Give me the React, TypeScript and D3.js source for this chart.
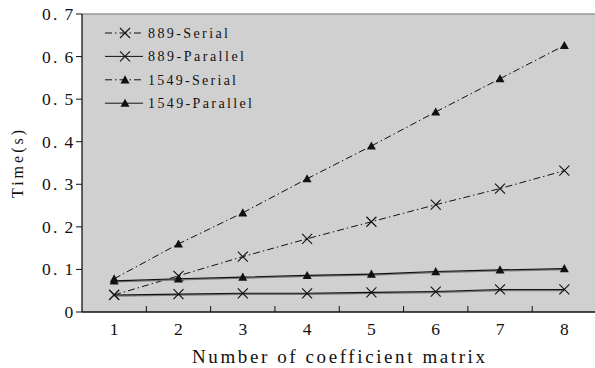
import React from "react";
import * as d3 from "d3";

const categories = [1, 2, 3, 4, 5, 6, 7, 8];
const serial889 = [0.04, 0.085, 0.13, 0.172, 0.212, 0.252, 0.29, 0.332];
const parallel889 = [0.04, 0.042, 0.044, 0.044, 0.046, 0.048, 0.053, 0.053];
const serial1549 = [0.078, 0.16, 0.233, 0.313, 0.39, 0.47, 0.548, 0.626];
const parallel1549 = [0.073, 0.078, 0.082, 0.086, 0.089, 0.095, 0.099, 0.102];
const yTicks = [0, 0.1, 0.2, 0.3, 0.4, 0.5, 0.6, 0.7];
const yTickLabels = ["0", "0.1", "0.2", "0.3", "0.4", "0.5", "0.6", "0.7"];
const seriesNames = ["889-Serial", "889-Parallel", "1549-Serial", "1549-Parallel"];

const W = 595, H = 368;
const L = 82, T = 14, R = 596.5, B = 312;
const FONT = "'Liberation Serif', 'DejaVu Serif', serif";

const series = [
  { name: seriesNames[0], values: serial889, marker: "x", dash: "7,3,1.5,3" },
  { name: seriesNames[1], values: parallel889, marker: "x", dash: null },
  { name: seriesNames[2], values: serial1549, marker: "tri", dash: "7,3,1.5,3" },
  { name: seriesNames[3], values: parallel1549, marker: "tri", dash: null },
];

// Monospaced-cell text for short numeric labels
function MonoText({ text, x, y, cell, size }: { text: string; x: number; y: number; cell: number; size: number }) {
  const n = text.length;
  const start = x - n * cell;
  return (
    <text y={y} fontFamily={FONT} fontSize={size} fill="#111" textAnchor="middle">
      {text.split("").map((ch, i) => (
        <tspan key={i} x={start + (i + 0.5) * cell + (ch === "." ? -cell * 0.22 : 0)} y={y}>
          {ch}
        </tspan>
      ))}
    </text>
  );
}

function Marker({ type, x, y }: { type: string; x: number; y: number }) {
  if (type === "x") {
    const s = 5;
    return (
      <path d={`M${x - s},${y - s}L${x + s},${y + s}M${x - s},${y + s}L${x + s},${y - s}`} stroke="#111" strokeWidth={1.1} fill="none" />
    );
  }
  const s = 4.5;
  return <path d={`M${x},${y - s}L${x + s},${y + s * 0.8}L${x - s},${y + s * 0.8}Z`} fill="#111" />;
}

export default function App() {
  const x = d3.scaleBand<number>().domain(categories).range([L, R]);
  const y = d3.scaleLinear().domain([0, 0.7]).range([B, T]);
  const cx = (c: number) => (x(c) as number) + x.bandwidth() / 2;
  const line = d3.line<number>().x((_, i) => cx(categories[i])).y((d) => y(d));

  return (
    <svg width={W} height={H} style={{ position: "absolute", left: 0, top: 0, background: "#fff" }}>
      <rect x={L} y={T} width={R - L} height={B - T} fill="#d0d0d0" />
      <line x1={L} x2={R} y1={T} y2={T} stroke="#999" strokeWidth={1.5} />
      <line x1={L} x2={L} y1={T} y2={B} stroke="#111" strokeWidth={1.3} />
      <line x1={L} x2={R} y1={B} y2={B} stroke="#111" strokeWidth={1.3} />
      {yTicks.map((t, i) => (
        <g key={t}>
          <line x1={L - 6} x2={L} y1={y(t)} y2={y(t)} stroke="#111" strokeWidth={1} />
          <MonoText text={yTickLabels[i]} x={74.5} y={y(t) + 6} cell={11.3} size={17.5} />
        </g>
      ))}
      {categories.map((c, i) => (
        <g key={c}>
          {i > 0 && <line x1={x(c)} x2={x(c)} y1={B} y2={B - 6} stroke="#111" strokeWidth={1} />}
          <text x={cx(c)} y={335} textAnchor="middle" fontFamily={FONT} fontSize={17.5} fill="#111">
            {c}
          </text>
        </g>
      ))}
      <text x={192} y={363} fontFamily={FONT} fontSize={19} textLength={293} lengthAdjust="spacing" fill="#111">
        Number of coefficient matrix
      </text>
      <text transform="translate(23,198) rotate(-90)" fontFamily={FONT} fontSize={16}
        textLength={68} lengthAdjust="spacing" fill="#111">
        Time(s)
      </text>
      {series.map((s) => (
        <g key={s.name}>
          {!s.dash && (
            <path d={line(s.values) || ""} fill="none" stroke="#777" strokeWidth={1.4} transform="translate(0,1)" />
          )}
          <path d={line(s.values) || ""} fill="none" stroke="#111" strokeWidth={s.dash ? 1 : 1.1} strokeDasharray={s.dash || undefined} />
          {s.values.map((v, i) => (
            <Marker key={i} type={s.marker} x={cx(categories[i])} y={y(v)} />
          ))}
        </g>
      ))}
      {series.map((s, i) => {
        const ly = 33 + i * 23.4;
        return (
          <g key={s.name}>
            <line x1={105} x2={143} y1={ly} y2={ly} stroke="#111" strokeWidth={1} strokeDasharray={s.dash || undefined} />
            <Marker type={s.marker} x={125} y={ly} />
            <text x={148} y={ly + 5} fontFamily={FONT} fontSize={14}
              textLength={s.name.length * 8} lengthAdjust="spacing" fill="#111">
              {s.name}
            </text>
          </g>
        );
      })}
    </svg>
  );
}
